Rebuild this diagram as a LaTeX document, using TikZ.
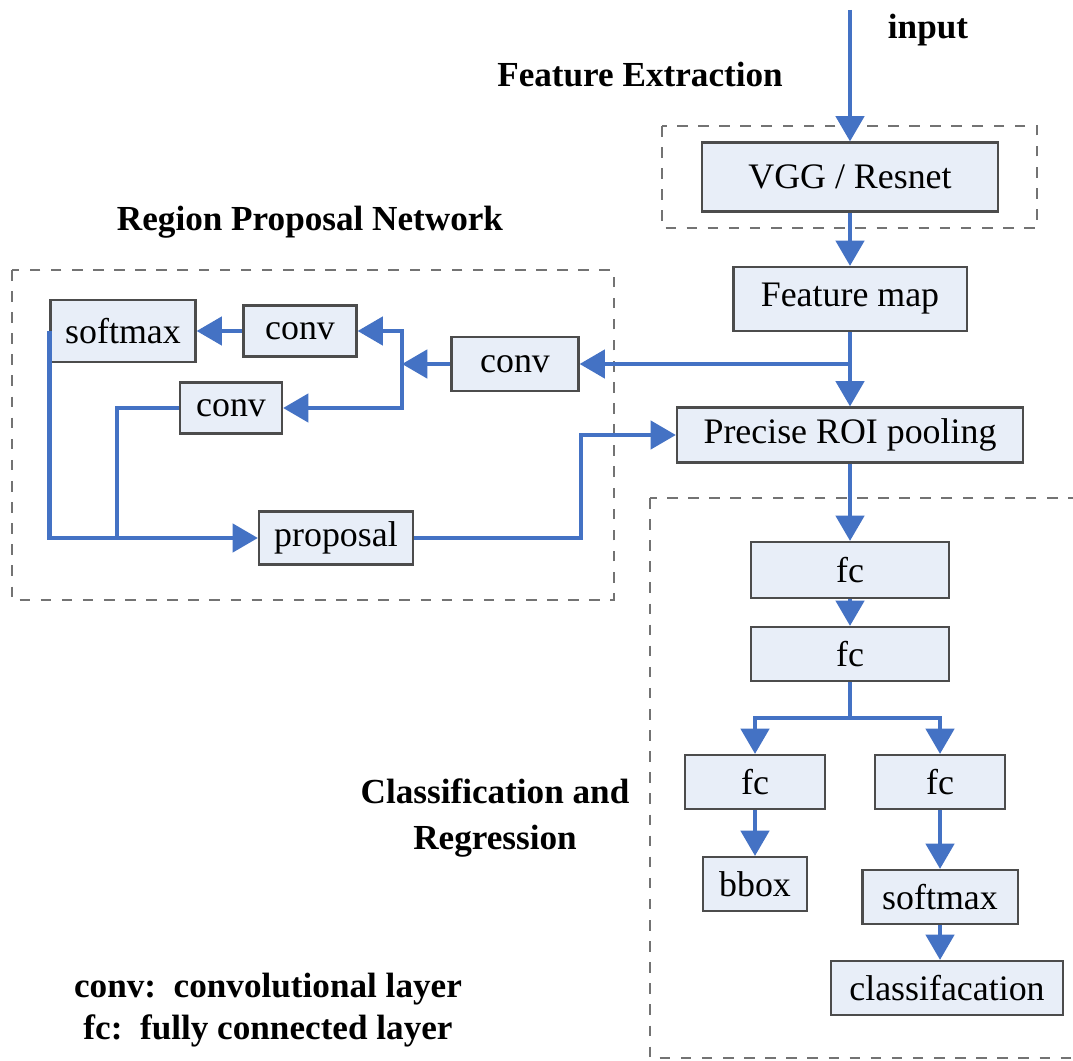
\documentclass[tikz,border=0pt]{standalone}
\usepackage{fontspec}
\setmainfont{Liberation Serif}
\usetikzlibrary{arrows.meta}
\definecolor{flowblue}{HTML}{4472C4}
\definecolor{boxfill}{HTML}{E8EEF8}
\tikzset{
    layer/.style={draw=black!70, fill=boxfill, line width=0.6pt, inner sep=0pt},
    flow/.style={draw=flowblue, line width=1.25pt, -{Triangle[length=7.2pt,width=8pt]}},
    wire/.style={draw=flowblue, line width=1.25pt},
    group/.style={draw=black!55, dashed, line width=0.6pt},
    title/.style={font=\bfseries}
}

\begin{document}
\begin{tikzpicture}[x=0.01cm, y=-0.01cm, font=\fontsize{10.2}{12.2}\selectfont]
            \useasboundingbox (0,0) rectangle (1073,1061);
            \draw [group] (662,126) rectangle (1037,228);
            \draw [group] (12,270) rectangle (614,600);
            \draw [group] (650,498) rectangle (1085,1058);

            \node [title] (inlbl) at (928,30) {input};
            \node [title] (fetitle) at (640,75) {Feature Extraction};
            \node [title] (rpntitle) at (310,222) {Region Proposal Network};
            \node [title, align=center] (crtitle) at (495,818) {Classification and\\[1pt]Regression};
            \node [title, align=center] (legend) at (268,1010) {conv:\ \ convolutional layer\\fc:\ \ fully connected layer};

            \node [layer, minimum width=2.96cm, minimum height=0.69cm] (vgg) at (850,177) {VGG / Resnet};
            \node [layer, minimum width=2.33cm, minimum height=0.64cm] (fmap) at (850,299) {Feature map};
            \node [layer, minimum width=3.46cm, minimum height=0.55cm] (roi) at (850,435) {Precise ROI pooling};
            \node [layer, minimum width=1.27cm, minimum height=0.54cm] (convr) at (515,364) {conv};
            \node [layer, minimum width=1.45cm, minimum height=0.62cm] (smx) at (123,331) {softmax};
            \node [layer, minimum width=1.13cm, minimum height=0.51cm] (convt) at (300,331) {conv};
            \node [layer, minimum width=1.02cm, minimum height=0.51cm] (convm) at (231,408) {conv};
            \node [layer, minimum width=1.54cm, minimum height=0.53cm] (prop) at (336,538) {proposal};
            \node [layer, minimum width=1.98cm, minimum height=0.56cm] (fca) at (850,570) {fc};
            \node [layer, minimum width=1.98cm, minimum height=0.54cm] (fcb) at (850,654) {fc};
            \node [layer, minimum width=1.40cm, minimum height=0.54cm] (fcl) at (755,782) {fc};
            \node [layer, minimum width=1.30cm, minimum height=0.54cm] (fcr) at (940,782) {fc};
            \node [layer, minimum width=1.04cm, minimum height=0.54cm] (bbox) at (755,884) {bbox};
            \node [layer, minimum width=1.55cm, minimum height=0.54cm] (smr) at (940,897) {softmax};
            \node [layer, minimum width=2.32cm, minimum height=0.54cm] (cls) at (947,988) {classifacation};

            \coordinate (in) at (850,10);
            \coordinate (tap) at (850,364);
            \coordinate (fork) at (402,364);
            \coordinate (low) at (117,538);
            \coordinate (up) at (581,538);
            \coordinate (split) at (850,718);

            \draw [flow] (in) -- (vgg.north);
            \draw [flow] (vgg) -- (fmap);
            \draw [flow] (fmap) -- (roi);
            \draw [flow] (tap) -- (convr);
            \draw [flow] (convr) -- (fork);
            \draw [flow] (fork) |- (convt);
            \draw [flow] (fork) |- (convm);
            \draw [flow] (convt) -- (smx);
            \draw [flow] (smx.west) -- (smx.west |- prop) -- (prop);
            \draw [wire] (convm) -| (low);
            \draw [flow] (prop) -- (up) |- (roi);
            \draw [flow] (roi) -- (fca);
            \draw [flow] (fca) -- (fcb);
            \draw [wire] (fcb) -- (split);
            \draw [flow] (split) -| (fcl);
            \draw [flow] (split) -| (fcr);
            \draw [flow] (fcl) -- (bbox);
            \draw [flow] (fcr) -- (smr);
            \draw [flow] (smr) -- (smr.south |- cls.north);
        \end{tikzpicture}
\end{document}
